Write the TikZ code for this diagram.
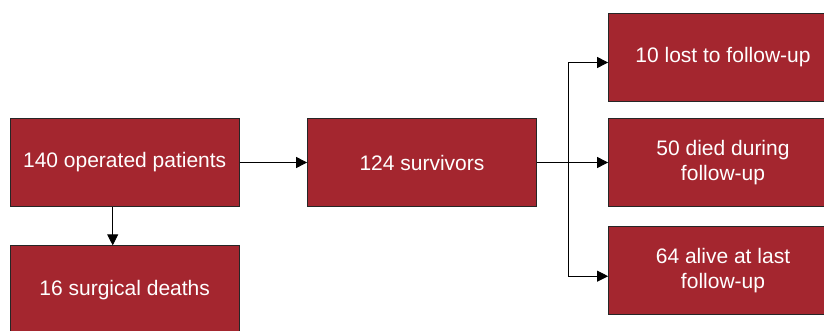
\documentclass[tikz,border=0pt]{standalone}
\usepackage{fontspec}
\setmainfont{Liberation Sans}
\usetikzlibrary{arrows.meta}
\definecolor{boxred}{HTML}{A4262F}
\begin{document}
\begin{tikzpicture}[x=1pt,y=-1pt]
		\tikzset{stage/.style = {shape=rectangle, draw=black!85, line width=0.8pt, fill=boxred, text=white,
				minimum width=229pt, minimum height=88.5pt, align=center, inner sep=2pt,
				font=\fontsize{21}{25}\selectfont},
			flow/.style = {line width=0.9pt, -{Triangle[length=11pt,width=11pt]}}}
		\useasboundingbox (0,0) rectangle (824,331);

		\node[stage] (operated) at (124.7,162.5) {140 operated patients};
		\node[stage] (deaths) at (124.7,290) {16 surgical deaths};
		\node[stage] (survivors) at (422,162.5) {124 survivors};
		\node[stage] (lost) at (723,57.5) {10 lost to follow-up};
		\node[stage] (died) at (723,162.5) {50 died during\\follow-up};
		\node[stage] (alive) at (723,270.2) {64 alive at last\\follow-up};
		\coordinate (split) at (568,162.5);




		\draw[flow] (operated)--(survivors);
		\draw[flow] ([xshift=-12pt]operated.south)--([xshift=-12pt]deaths.north);
		\draw[line width=0.9pt] (survivors)--(split);
		\draw[flow] (split)--(died);
		\draw[flow] (split) |- ([yshift=-5pt]lost.west);
		\draw[flow] (split) |- ([yshift=-6pt]alive.west);

	\end{tikzpicture}
\end{document}
